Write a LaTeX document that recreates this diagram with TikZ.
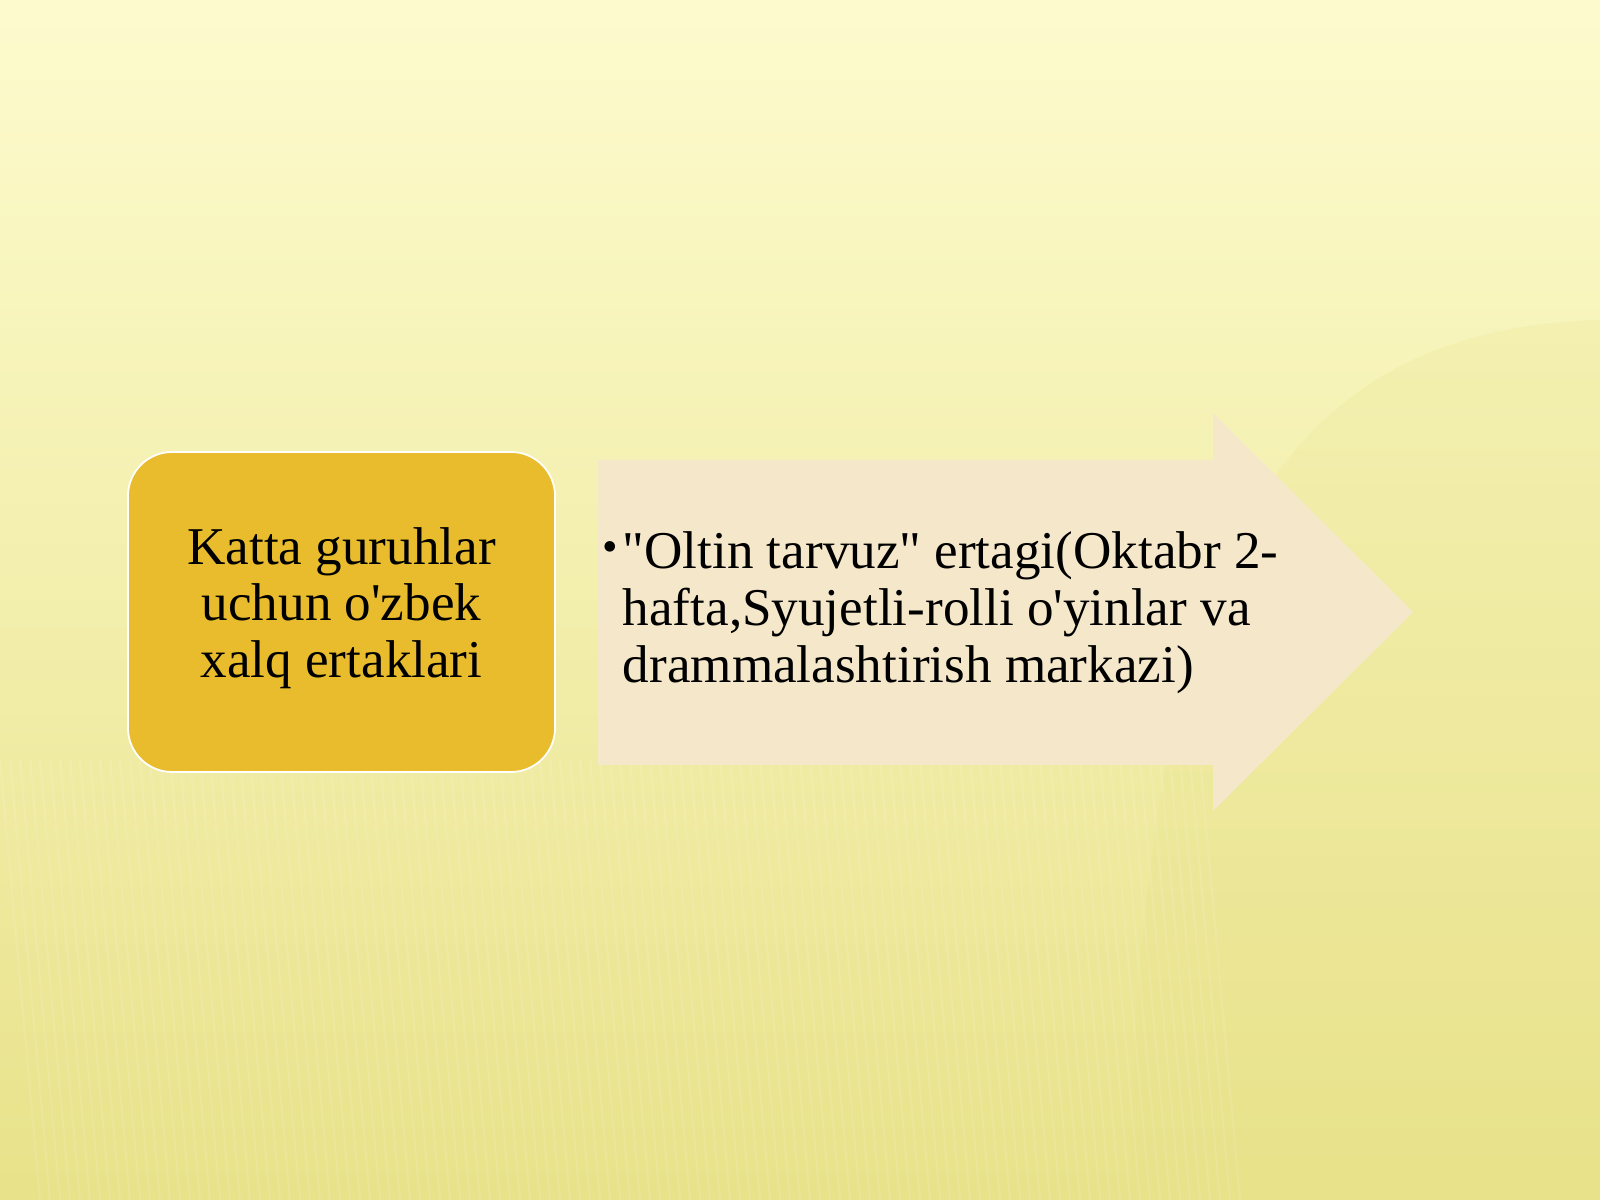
\documentclass[tikz,border=0pt]{standalone}
\usepackage{fontspec}
\defaultfontfeatures{}
\defaultfontfeatures[\rmfamily,\sffamily]{}
\setmainfont{Liberation Serif}
\usetikzlibrary{positioning}
\definecolor{slidetop}{RGB}{253,251,206}
\definecolor{slidebottom}{RGB}{232,226,138}
\definecolor{groupgold}{RGB}{232,188,44}
\definecolor{storybeige}{RGB}{245,232,202}

\tikzset{
  groupbox/.style={draw=white, line width=0.8pt, fill=groupgold, rounded corners=7mm,
    minimum width=67.8mm, minimum height=50.8mm, inner sep=0pt},
  grouptext/.style={align=center, font=\fontsize{24}{25.7}\selectfont},
  storytext/.style={anchor=west, inner sep=0pt, font=\fontsize{24}{25.7}\selectfont}
}

\begin{document}
\begin{tikzpicture}[x=0.15875mm, y=-0.15875mm, >=stealth]

\useasboundingbox (0,0) rectangle (1600,1200);

% background
\shade[top color=slidetop, bottom color=slidebottom] (0,0) rectangle (1600,1200);
\fill[slidebottom, opacity=0.22] (1130,1200) .. controls (1140,600) and (1250,330) .. (1600,320) -- (1600,1200) -- cycle;
\foreach \s in {0,10,...,1200}
  \draw[white, opacity=0.10, line width=1pt] (\s,760) -- (\s+40,1200);

% left box
\node[groupbox] (group) at (341.5,612) {};
\node[grouptext] (grouplabel) at (group.center) [yshift=0.6mm] {Katta guruhlar\\uchun o'zbek\\xalq ertaklari};

% arrow
\coordinate (tail-top) at (598,460);
\coordinate (tail-bottom) at (598,765);
\coordinate (tip) at (1413,612);
\fill[storybeige] (tail-top) -- (1213,460) -- (1213,413) -- (tip)
  -- (1213,811) -- (1213,765) -- (tail-bottom) -- cycle;

\node[storytext] (storylabel) at (602,614) {%
  \begin{tabular}{@{}l@{}l@{}}
  \makebox[9.2pt][l]{\raisebox{3.1pt}{\fontsize{20}{20}\selectfont\textbullet}} & "Oltin tarvuz" ertagi(Oktabr 2-\\
   & hafta,Syujetli-rolli o'yinlar va\\
   & drammalashtirish markazi)
  \end{tabular}};

\end{tikzpicture}
\end{document}
